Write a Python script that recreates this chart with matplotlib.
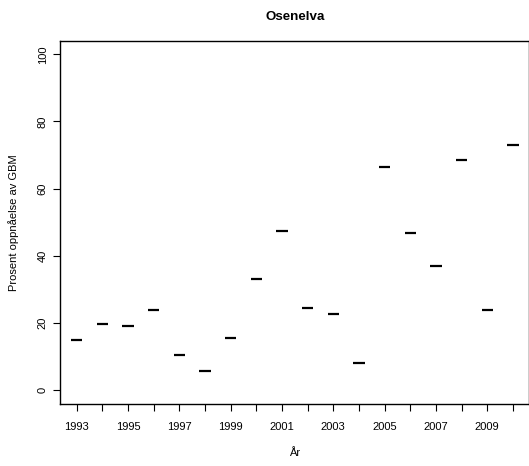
import matplotlib
matplotlib.use("Agg")
import matplotlib.pyplot as plt
import numpy as np

# Data: one value per year (median of the yearly boxplot)
aar = list(range(1993, 2011))
prosent = [15.1, 19.6, 19.1, 23.9, 10.6, 5.7, 15.6, 33.2, 47.3,
           24.5, 22.8, 8.0, 66.4, 46.9, 37.0, 68.4, 24.0, 73.1]
y_ticks = [0, 20, 40, 60, 80, 100]

plt.rcParams['font.family'] = ['Liberation Sans', 'DejaVu Sans']

fig = plt.figure(figsize=(5.29, 4.66), dpi=100)
ax = fig.add_axes([0.114, 0.1324, 0.8866, 0.7803])

pos = np.arange(1, len(aar) + 1)
halv = 0.22
ax.hlines(prosent, pos - halv, pos + halv, colors='black', linewidth=1.6)

ax.set_xlim(0.36, 18.64)
ax.set_ylim(-4.17, 104.05)

ax.set_xticks(pos)
ax.set_xticklabels([str(a) if i % 2 == 0 else '' for i, a in enumerate(aar)])
ax.set_yticks(y_ticks)
ax.set_yticklabels([str(v) for v in y_ticks], rotation=90, va='center')

ax.tick_params(axis='both', direction='out', length=5, width=0.8, labelsize=8)
ax.tick_params(axis='x', pad=8)
ax.tick_params(axis='y', pad=4)

for s in ax.spines.values():
    s.set_linewidth(1.0)

ax.set_title('Osenelva', fontsize=9.6, fontweight='bold', x=0.5, y=1.033)
ax.set_xlabel('År', fontsize=8)
ax.set_ylabel('Prosent oppnåelse av GBM', fontsize=8)
ax.xaxis.set_label_coords(0.5, -0.12)
ax.yaxis.set_label_coords(-0.089, 0.5)

fig.savefig('out.png', dpi=100)
